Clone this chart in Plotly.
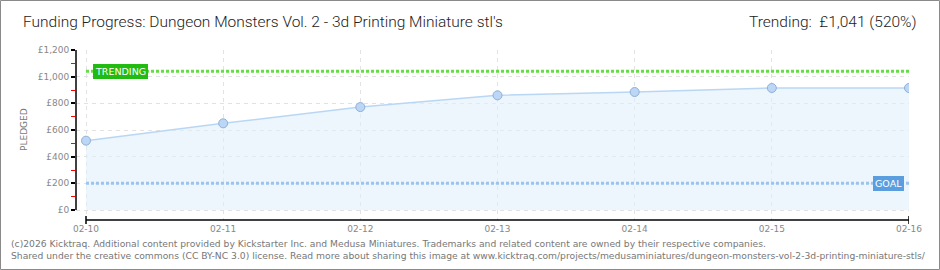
import plotly.graph_objects as go

dates = ["02-10", "02-11", "02-12", "02-13", "02-14", "02-15", "02-16"]
pledged = [520, 650, 772, 860, 885, 915, 915]
trending = 1041
goal = 200
y_ticks = [0, 200, 400, 600, 800, 1000, 1200]
y_tick_labels = ["£0", "£200", "£400", "£600", "£800", "£1,000", "£1,200"]

W, H = 940, 270
L, R, T, B = 76, 909, 50, 220
pw, ph = R - L, B - T

def px(x):
    return (x - L) / pw

def py(y):
    return (B - y) / ph

xi = list(range(len(dates)))

fig = go.Figure()
fig.add_trace(go.Scatter(
    x=xi, y=pledged, mode="lines+markers", fill="tozeroy",
    fillcolor="rgba(225,238,252,0.6)",
    line=dict(color="#b9d7f4", width=1.5),
    marker=dict(size=9, color="#bcd6f6", line=dict(color="#8fb0d8", width=1)),
    hoverinfo="skip", showlegend=False,
))
fig.add_trace(go.Scatter(
    x=[xi[0], xi[-1]], y=[trending, trending], mode="lines",
    line=dict(color="#66dd44", width=3, dash="3px,2px"),
    hoverinfo="skip", showlegend=False,
))
fig.add_trace(go.Scatter(
    x=[xi[0], xi[-1]], y=[goal, goal], mode="lines",
    line=dict(color="#9cc4ee", width=3, dash="3px,2px"),
    hoverinfo="skip", showlegend=False,
))

shapes = [
    dict(type="line", xref="paper", yref="y", x0=0, x1=0, y0=0, y1=1200,
         line=dict(color="black", width=1.5)),
    dict(type="line", xref="x", yref="paper", x0=xi[0], x1=xi[-1], y0=0, y1=0,
         line=dict(color="black", width=1.5)),
    dict(type="line", xref="x", yref="paper", x0=xi[0], x1=xi[0], y0=py(224), y1=py(216),
         line=dict(color="black", width=1.5)),
    dict(type="line", xref="x", yref="paper", x0=xi[-1], x1=xi[-1], y0=py(224), y1=py(216),
         line=dict(color="black", width=1.5)),
    dict(type="rect", xref="paper", yref="paper", x0=px(0.5), x1=px(W - 0.5),
         y0=py(H - 0.5), y1=py(0.5), line=dict(color="#8a8a8a", width=1)),
]

title_font = dict(family="Roboto", size=15.5, color="#222", weight=300)

annotations = [
    dict(text="Funding Progress: Dungeon Monsters Vol. 2 - 3d Printing Miniature stl's",
         xref="paper", yref="paper", x=px(21), y=py(22), xanchor="left", yanchor="middle",
         showarrow=False, font=title_font),
    dict(text="Trending:  £1,041 (520%)",
         xref="paper", yref="paper", x=px(919), y=py(22), xanchor="right", yanchor="middle",
         showarrow=False, font=title_font),
    dict(text="PLEDGED", textangle=-90,
         xref="paper", yref="paper", x=px(24), y=py(130), xanchor="center", yanchor="middle",
         showarrow=False, font=dict(family="DejaVu Sans", size=9, color="#777")),
    dict(text="TRENDING", xref="x", yref="y", x=0.25, y=trending,
         xanchor="center", yanchor="middle", showarrow=False,
         bgcolor="#22bb11", bordercolor="#22bb11", borderpad=1,
         font=dict(family="DejaVu Sans", size=9.5, color="white")),
    dict(text="GOAL", xref="x", yref="y", x=5.85, y=goal,
         xanchor="center", yanchor="middle", showarrow=False,
         bgcolor="#5a9ee0", bordercolor="#5a9ee0", borderpad=1,
         font=dict(family="DejaVu Sans", size=9.5, color="white")),
    dict(text="(c)2026 Kicktraq. Additional content provided by Kickstarter Inc. and Medusa Miniatures. Trademarks and related content are owned by their respective companies.",
         xref="paper", yref="paper", x=px(9), y=py(243), xanchor="left", yanchor="middle",
         showarrow=False, font=dict(family="DejaVu Sans", size=9.2, color="#777")),
    dict(text="Shared under the creative commons (CC BY-NC 3.0) license. Read more about sharing this image at www.kicktraq.com/projects/medusaminiatures/dungeon-monsters-vol-2-3d-printing-miniature-stls/",
         xref="paper", yref="paper", x=px(9), y=py(256), xanchor="left", yanchor="middle",
         showarrow=False, font=dict(family="DejaVu Sans", size=9.2, color="#777")),
]

fig.update_layout(
    width=W, height=H,
    margin=dict(l=L, r=W - R, t=T, b=H - B, pad=0),
    paper_bgcolor="white", plot_bgcolor="white",
    shapes=shapes, annotations=annotations,
    xaxis=dict(
        range=[-10 / 823 * 6, 6], tickvals=xi, ticktext=dates,
        showgrid=True, gridcolor="#e2e2e2", griddash="4px,4px", gridwidth=1,
        zeroline=False, showline=False, ticks="", ticklabelstandoff=2,
        tickfont=dict(family="DejaVu Sans", size=9, color="#888"),
    ),
    yaxis=dict(
        range=[-75, 1200], tickvals=y_ticks, ticktext=y_tick_labels,
        showgrid=True, gridcolor="#e2e2e2", griddash="4px,4px", gridwidth=1,
        zeroline=False, showline=False,
        ticks="outside", ticklen=4, tickcolor="black", tickwidth=1.5,
        minor=dict(tickvals=[100, 300, 500, 700, 900, 1100], ticks="outside",
                   ticklen=4, tickcolor="red", tickwidth=1, showgrid=False),
        tickfont=dict(family="DejaVu Sans", size=9, color="#888"),
    ),
)

fig.write_html("out.html")
